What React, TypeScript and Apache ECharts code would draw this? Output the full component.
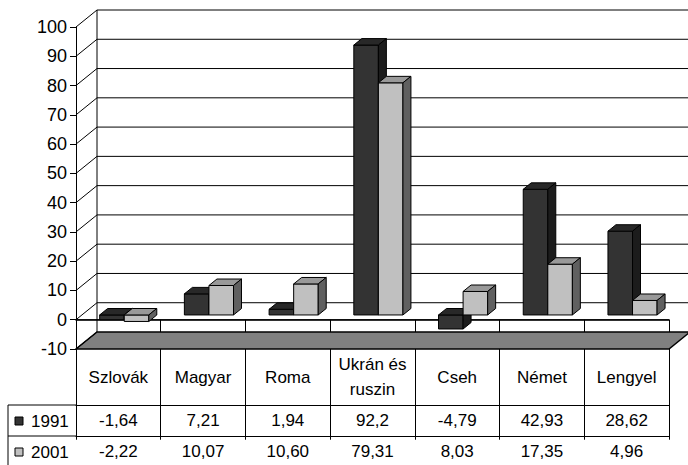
import React, { useEffect, useRef } from "react";
import * as echarts from "echarts";

const categories = ["Szlovák", "Magyar", "Roma", "Ukrán és\nruszin", "Cseh", "Német", "Lengyel"];
const seriesNames = ["1991", "2001"];
const values1991 = [-1.64, 7.21, 1.94, 92.2, -4.79, 42.93, 28.62];
const values2001 = [-2.22, 10.07, 10.6, 79.31, 8.03, 17.35, 4.96];
const labels1991 = ["-1,64", "7,21", "1,94", "92,2", "-4,79", "42,93", "28,62"];
const labels2001 = ["-2,22", "10,07", "10,60", "79,31", "8,03", "17,35", "4,96"];
const yMin = -10;
const yMax = 100;
const yInterval = 10;

const FONT = "Liberation Sans, Arial, sans-serif";
const DX = 21;
const DY = 17;
const BAR_POS = 0.28;
const BAR_DEPTH = 0.38;
const BAR_W = 0.29;

const barColors = [
  { front: "#333333", top: "#282828", side: "#1c1c1c" },
  { front: "#c0c0c0", top: "#999999", side: "#606060" },
];

function renderFrame(params: any, api: any) {
  const cs = params.coordSys;
  const x0 = cs.x;
  const x1 = cs.x + cs.width;
  const yOf = (v: number) => api.coord([0, v])[1];
  const children: any[] = [];
  const yb = yOf(yMin);
  children.push({
    type: "polygon",
    shape: { points: [[x0, yb], [x1, yb], [x1 + DX, yb - DY], [x0 + DX, yb - DY]] },
    style: { fill: "#808080", stroke: "#000", lineWidth: 1.5 },
  });
  for (let v = yMin; v <= yMax; v += yInterval) {
    const y = yOf(v);
    if (v > yMin) {
      children.push({
        type: "line",
        shape: { x1: x0 + DX, y1: y - DY, x2: x1 + DX, y2: y - DY },
        style: { stroke: "#000", lineWidth: 1 },
      });
    }
    children.push({
      type: "line",
      shape: { x1: x0, y1: y, x2: x0 + DX, y2: y - DY },
      style: { stroke: "#000", lineWidth: 1 },
    });
  }
  children.push({
    type: "line",
    shape: { x1: x0 + DX, y1: yOf(yMax) - DY, x2: x0 + DX, y2: yb - DY },
    style: { stroke: "#000", lineWidth: 1 },
  });
  const yz = yOf(0);
  children.push({
    type: "line",
    shape: { x1: x0, y1: yz, x2: x1, y2: yz },
    style: { stroke: "#000", lineWidth: 1 },
  });
  return { type: "group", children };
}

function makeBarRender(s: number) {
  return (params: any, api: any) => {
    const idx = api.value(0);
    const v = api.value(1);
    const p0 = api.coord([idx, 0]);
    const pv = api.coord([idx, v]);
    const band = api.size([1, 0])[0];
    const w = band * BAR_W;
    const ox = DX * BAR_POS;
    const oy = -DY * BAR_POS;
    const bdx = DX * BAR_DEPTH;
    const bdy = DY * BAR_DEPTH;
    const xl = (s === 0 ? p0[0] - w : p0[0]) + ox;
    const xr = xl + w;
    const yt = Math.min(p0[1], pv[1]) + oy;
    const yb = Math.max(p0[1], pv[1]) + oy;
    const c = barColors[s];
    const stroke = { stroke: "#000", lineWidth: 1 };
    return {
      type: "group",
      children: [
        {
          type: "rect",
          shape: { x: xl, y: yt, width: w, height: yb - yt },
          style: { fill: c.front, ...stroke },
        },
        {
          type: "polygon",
          shape: { points: [[xl, yt], [xr, yt], [xr + bdx, yt - bdy], [xl + bdx, yt - bdy]] },
          style: { fill: c.top, ...stroke },
        },
        {
          type: "polygon",
          shape: { points: [[xr, yt], [xr + bdx, yt - bdy], [xr + bdx, yb - bdy], [xr, yb]] },
          style: { fill: c.side, ...stroke },
        },
      ],
    };
  };
}

const labelStyle = { color: "#000", fontSize: 17, fontFamily: FONT };

export default function App() {
  const ref = useRef<HTMLDivElement>(null);
  useEffect(() => {
    if (!ref.current) return;
    const chart = echarts.init(ref.current, null, { renderer: "svg" });
    const option: any = {
      animation: false,
      backgroundColor: "#fff",
      grid: { left: 76, right: 19, top: 27, bottom: 116, containLabel: false },
      xAxis: [
        {
          type: "category",
          data: categories,
          position: "bottom",
          boundaryGap: true,
          axisLine: { show: true, lineStyle: { color: "#000", width: 1.5 } },
          axisTick: { show: true, length: 120, interval: 0, lineStyle: { color: "#000" } },
          axisLabel: { ...labelStyle, interval: 0, margin: 28, verticalAlign: "middle", lineHeight: 25 },
          splitLine: { show: false },
        },
        {
          type: "category",
          data: labels1991,
          position: "bottom",
          offset: 56,
          axisLine: { show: true, lineStyle: { color: "#000" } },
          axisTick: { show: false },
          axisLabel: { ...labelStyle, interval: 0, margin: 15.5, verticalAlign: "middle" },
        },
        {
          type: "category",
          data: labels2001,
          position: "bottom",
          offset: 87,
          axisLine: { show: true, lineStyle: { color: "#000" } },
          axisTick: { show: false },
          axisLabel: { ...labelStyle, interval: 0, margin: 15.5, verticalAlign: "middle" },
        },
      ],
      yAxis: {
        type: "value",
        min: yMin,
        max: yMax,
        interval: yInterval,
        axisLine: { show: true, lineStyle: { color: "#000" } },
        axisTick: { show: true, length: 6, lineStyle: { color: "#000" } },
        axisLabel: { ...labelStyle, fontSize: 18, margin: 9 },
        splitLine: { show: false },
      },
      graphic: [
        { type: "line", shape: { x1: 8, y1: 405, x2: 76, y2: 405 }, style: { stroke: "#000", lineWidth: 1 } },
        { type: "line", shape: { x1: 8, y1: 436, x2: 76, y2: 436 }, style: { stroke: "#000", lineWidth: 1 } },
        { type: "line", shape: { x1: 8, y1: 405, x2: 8, y2: 470 }, style: { stroke: "#000", lineWidth: 1 } },
        { type: "rect", shape: { x: 15, y: 417, width: 8, height: 8 }, style: { fill: barColors[0].front, stroke: "#000", lineWidth: 1 } },
        { type: "text", x: 31, y: 421, style: { text: seriesNames[0], fill: "#000", fontSize: 17, fontFamily: FONT, verticalAlign: "middle" } },
        { type: "rect", shape: { x: 15, y: 448, width: 8, height: 8 }, style: { fill: barColors[1].front, stroke: "#000", lineWidth: 1 } },
        { type: "text", x: 31, y: 452, style: { text: seriesNames[1], fill: "#000", fontSize: 17, fontFamily: FONT, verticalAlign: "middle" } },
      ],
      series: [
        {
          type: "custom",
          name: "frame",
          renderItem: renderFrame,
          data: [[0, 0]],
          clip: false,
          silent: true,
          z: 1,
        },
        {
          type: "custom",
          name: seriesNames[0],
          renderItem: makeBarRender(0),
          data: values1991.map((v, i) => [i, v]),
          encode: { x: 0, y: 1 },
          clip: false,
          z: 2,
        },
        {
          type: "custom",
          name: seriesNames[1],
          renderItem: makeBarRender(1),
          data: values2001.map((v, i) => [i, v]),
          encode: { x: 0, y: 1 },
          clip: false,
          z: 3,
        },
      ],
    };
    chart.setOption(option);
    return () => chart.dispose();
  }, []);
  return (
    <div
      ref={ref}
      style={{ position: "fixed", left: 0, top: 0, width: 688, height: 465, background: "#fff" }}
    />
  );
}
